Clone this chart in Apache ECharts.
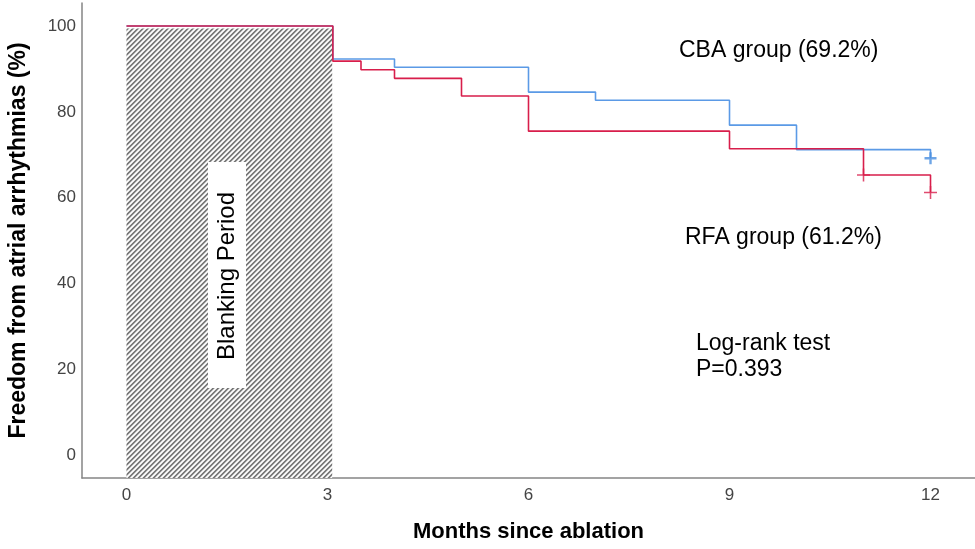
<!DOCTYPE html>
<html>
<head>
<meta charset="utf-8">
<script src="https://cdn.jsdelivr.net/npm/echarts@6/dist/echarts.min.js"></script>
<style>html,body{margin:0;padding:0;background:#fff}#c{width:975px;height:549px}</style>
</head>
<body>
<div id="c"></div>
<script>
// ---- data ----
var xTicks = [0, 3, 6, 9, 12];
var yTicks = [0, 20, 40, 60, 80, 100];
var cbaTimes  = [0, 3.08, 4, 6, 7, 9, 10, 12];
var cbaValues = [100, 92.3, 90.4, 84.6, 82.7, 76.9, 71.2, 69.2];
var rfaTimes  = [0, 3.08, 3.5, 4, 5, 6, 9, 11, 12];
var rfaValues = [100, 91.8, 89.8, 87.8, 83.7, 75.5, 71.4, 65.3, 61.2];
var cbaCensorTimes = [12];
var cbaCensorValues = [69.2];
var rfaCensorTimes = [11, 12];
var rfaCensorValues = [65.3, 61.2];
var blankingStart = 0, blankingEnd = 3.07, blankingTop = 99.4;

var X_MIN = -0.664, X_MAX = 12.664, Y_MIN = -5.3, Y_MAX = 105.35;

function zip(a, b) { return a.map(function (v, i) { return [v, b[i]]; }); }

function makeHatch() {
  var p = 5, c = document.createElement('canvas');
  c.width = p; c.height = p;
  var ctx = c.getContext('2d');
  var img = ctx.createImageData(p, p);
  var lv = [118, 128, 215, 255, 225];
  for (var j = 0; j < p; j++) for (var i = 0; i < p; i++) {
    var k = (j * p + i) * 4, v = lv[(i + j) % p];
    img.data[k] = img.data[k + 1] = img.data[k + 2] = v; img.data[k + 3] = 255;
  }
  ctx.putImageData(img, 0, 0);
  return c;
}

var chart = echarts.init(document.getElementById('c'), null, { renderer: 'canvas' });
var FONT = 'Liberation Sans, Arial, sans-serif';
var BLUE = '#5b9ae6', RED = '#d81e4b';
var plusThick = 'path://M4,0H6V4H10V6H6V10H4V6H0V4H4Z';
var plusThin = 'path://M4.4,0H5.6V4.4H10V5.6H5.6V10H4.4V5.6H0V4.4H4.4Z';

chart.setOption({
  animation: false,
  backgroundColor: '#fff',
  grid: { left: 82, right: 0, top: 3, bottom: 71, containLabel: false, outerBoundsMode: 'none' },
  xAxis: {
    type: 'value', min: X_MIN, max: X_MAX,
    name: 'Months since ablation', nameLocation: 'middle', nameGap: 43,
    nameTextStyle: { fontFamily: FONT, fontSize: 22, fontWeight: 'bold', color: '#000' },
    axisLine: { show: true, onZero: false, lineStyle: { color: '#858585', width: 1.5 } },
    axisTick: { show: false },
    splitLine: { show: false },
    axisLabel: { customValues: xTicks, fontFamily: FONT, fontSize: 17, color: '#444', margin: 9 }
  },
  yAxis: {
    type: 'value', min: Y_MIN, max: Y_MAX,
    name: 'Freedom from atrial arrhythmias (%)', nameLocation: 'middle', nameGap: 52,
    nameTextStyle: { fontFamily: FONT, fontSize: 23, fontWeight: 'bold', color: '#000' },
    axisLine: { show: true, onZero: false, lineStyle: { color: '#858585', width: 1.5 } },
    axisTick: { show: false },
    splitLine: { show: false },
    axisLabel: { customValues: yTicks, fontFamily: FONT, fontSize: 17, color: '#444', margin: 6 }
  },
  series: [
    {
      type: 'line', data: [], z: 1, silent: true,
      markArea: {
        silent: true,
        itemStyle: { color: { image: makeHatch(), repeat: 'repeat' }, opacity: 1 },
        data: [[{ coord: [blankingStart, Y_MIN] }, { coord: [blankingEnd, blankingTop] }]]
      }
    },
    {
      name: 'CBA', type: 'line', step: 'end', data: zip(cbaTimes, cbaValues),
      symbol: 'none', z: 3, lineStyle: { color: BLUE, width: 1.6 }
    },
    {
      name: 'RFA', type: 'line', step: 'end', data: zip(rfaTimes, rfaValues),
      symbol: 'none', z: 4, lineStyle: { color: RED, width: 1.6 }
    },
    {
      type: 'scatter', data: zip(cbaCensorTimes, cbaCensorValues), z: 5,
      symbol: plusThick, symbolSize: 12, itemStyle: { color: '#4a8ee0' }
    },
    {
      type: 'scatter', data: zip(rfaCensorTimes, rfaCensorValues), z: 5,
      symbol: plusThin, symbolSize: 13, itemStyle: { color: RED }
    }
  ],
  graphic: [
    { type: 'rect', shape: { x: 208, y: 162, width: 38, height: 226 }, style: { fill: '#fff' }, z: 10 },
    { type: 'text', x: 227, y: 276, rotation: Math.PI / 2, z: 11,
      style: { text: 'Blanking Period', font: '24px ' + FONT, fill: '#000', align: 'center', verticalAlign: 'middle' } },
    { type: 'text', x: 679, y: 51, z: 11,
      style: { text: 'CBA group (69.2%)', font: '23px ' + FONT, fill: '#000', align: 'left', verticalAlign: 'middle' } },
    { type: 'text', x: 685, y: 238, z: 11,
      style: { text: 'RFA group (61.2%)', font: '23px ' + FONT, fill: '#000', align: 'left', verticalAlign: 'middle' } },
    { type: 'text', x: 696, y: 344, z: 11,
      style: { text: 'Log-rank test', font: '23px ' + FONT, fill: '#000', align: 'left', verticalAlign: 'middle' } },
    { type: 'text', x: 696, y: 370, z: 11,
      style: { text: 'P=0.393', font: '23px ' + FONT, fill: '#000', align: 'left', verticalAlign: 'middle' } }
  ]
});
</script>
</body>
</html>
